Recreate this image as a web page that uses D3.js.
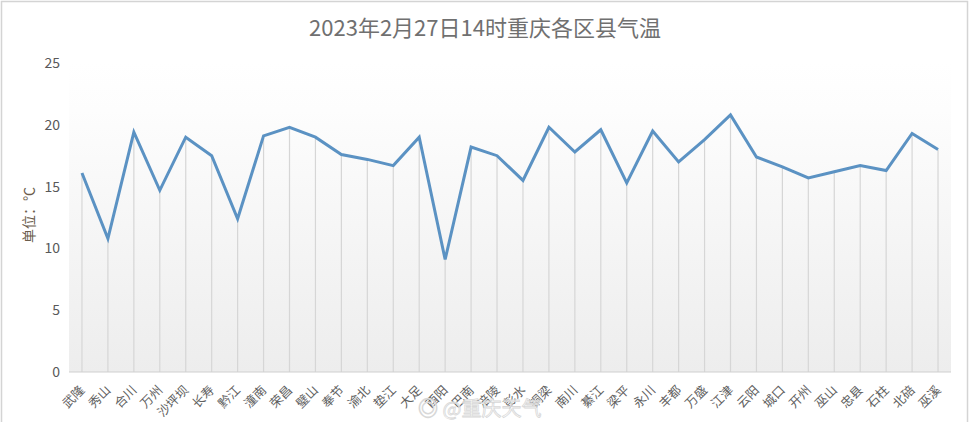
<!DOCTYPE html>
<html>
<head>
<meta charset="utf-8">
<script src="https://cdn.jsdelivr.net/npm/d3@7"></script>
<style>
  html, body { margin: 0; padding: 0; background: #fff; }
  svg { display: block; }
</style>
</head>
<body>
<div id="chart"></div>
<script>
const districts = ["武隆", "秀山", "合川", "万州", "沙坪坝", "长寿", "黔江", "潼南", "荣昌", "璧山",
  "奉节", "渝北", "垫江", "大足", "酉阳", "巴南", "涪陵", "彭水", "铜梁", "南川",
  "綦江", "梁平", "永川", "丰都", "万盛", "江津", "云阳", "城口", "开州", "巫山",
  "忠县", "石柱", "北碚", "巫溪"];
const temps = [16.1, 10.8, 19.4, 14.7, 19.0, 17.5, 12.4, 19.1, 19.8, 19.0,
  17.6, 17.2, 16.7, 19.0, 9.1, 18.2, 17.5, 15.5, 19.8, 17.8,
  19.6, 15.3, 19.5, 17.0, 18.8, 20.8, 17.4, 16.6, 15.7, 16.2,
  16.7, 16.3, 19.3, 18.0];
const yTicks = [0, 5, 10, 15, 20, 25];

const W = 971, H = 422;
const plot = {left: 69, right: 951, top: 63, bottom: 372};
const sans = '"Noto Sans CJK SC", "Noto Sans", sans-serif';

const svg = d3.select("#chart").append("svg")
  .attr("width", W).attr("height", H)
  .attr("viewBox", `0 0 ${W} ${H}`);

// plot area gradient
const grad = svg.append("defs").append("linearGradient")
  .attr("id", "bg").attr("x1", 0).attr("y1", 0).attr("x2", 0).attr("y2", 1);
grad.append("stop").attr("offset", "0%").attr("stop-color", "#ffffff");
grad.append("stop").attr("offset", "15%").attr("stop-color", "#fdfdfd");
grad.append("stop").attr("offset", "100%").attr("stop-color", "#ededed");

// outer frame
svg.append("rect")
  .attr("x", 1.5).attr("y", 1.5).attr("width", W - 5).attr("height", H + 10)
  .attr("fill", "none").attr("stroke", "#d4d4d4").attr("stroke-width", 1.5);

const x = d3.scalePoint().domain(districts).range([plot.left, plot.right]).padding(0.5);
const y = d3.scaleLinear().domain([0, 25]).range([plot.bottom, plot.top]);

svg.append("rect")
  .attr("x", plot.left).attr("y", plot.top)
  .attr("width", plot.right - plot.left).attr("height", plot.bottom - plot.top)
  .attr("fill", "url(#bg)");

// title
svg.append("text")
  .attr("x", 485).attr("y", 36)
  .attr("text-anchor", "middle")
  .attr("font-family", sans).attr("font-size", 22)
  .attr("fill", "#707070")
  .text("2023年2月27日14时重庆各区县气温");

// y axis
const yAxis = svg.append("g")
  .attr("transform", `translate(${plot.left},0)`)
  .call(d3.axisLeft(y).tickValues(yTicks).tickSize(0).tickPadding(9));
yAxis.select(".domain").remove();
yAxis.selectAll("text")
  .attr("font-family", sans).attr("font-size", 14).attr("fill", "#595959");

svg.append("text")
  .attr("transform", "translate(34,215) rotate(-90)")
  .attr("text-anchor", "middle")
  .attr("font-family", sans).attr("font-size", 14)
  .attr("fill", "#6b5d4c")
  .text("单位：℃");

// drop lines
svg.append("g").selectAll("line")
  .data(districts)
  .join("line")
  .attr("x1", d => x(d)).attr("x2", d => x(d))
  .attr("y1", (d, i) => y(temps[i])).attr("y2", y(0))
  .attr("stroke", "#d6d6d6").attr("stroke-width", 1.2);

// x axis
const xAxis = svg.append("g")
  .attr("transform", `translate(0,${plot.bottom})`)
  .call(d3.axisBottom(x).tickSize(0).tickPadding(0));
xAxis.select(".domain")
  .attr("d", `M${plot.left},0H${plot.right}`)
  .attr("stroke", "#d0d0d0").attr("stroke-width", 1.2);
xAxis.selectAll(".tick text")
  .attr("font-family", sans).attr("font-size", 12.5)
  .attr("fill", "#606060")
  .attr("text-anchor", "end")
  .attr("dy", 0)
  .attr("transform", "translate(3,19) rotate(-45)");

// line
svg.append("path")
  .datum(temps)
  .attr("fill", "none")
  .attr("stroke", "#5b92c3")
  .attr("stroke-width", 3)
  .attr("stroke-linejoin", "miter")
  .attr("d", d3.line().x((d, i) => x(districts[i])).y(d => y(d)));

// watermark
svg.append("text")
  .attr("x", 418).attr("y", 416)
  .attr("font-family", sans).attr("font-size", 20)
  .attr("fill", "#ffffff").attr("fill-opacity", 0.5)
  .attr("stroke", "#d8d8d8").attr("stroke-width", 0.8)
  .text("◎ @重庆天气");
</script>
</body>
</html>
